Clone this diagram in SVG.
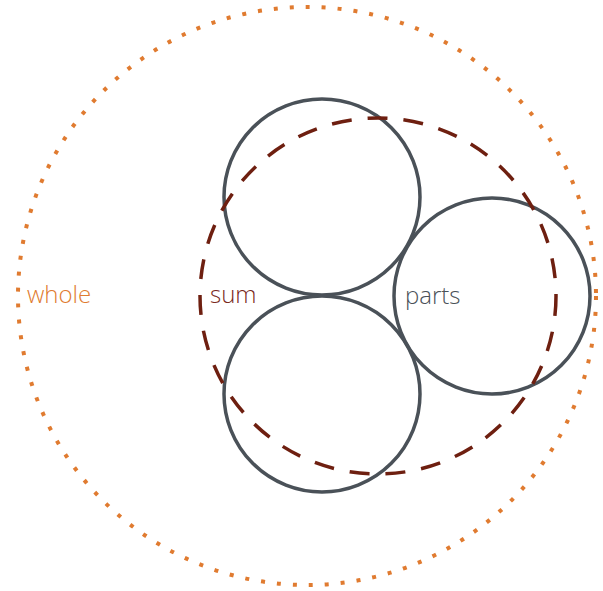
<svg xmlns="http://www.w3.org/2000/svg" width="603" height="591" viewBox="0 0 603 591">
<style>
.part{fill:none;stroke:#4a5158;stroke-width:3.5}
.lbl{font-family:"Open Sans","Liberation Sans",sans-serif;font-size:24px;font-weight:300}
</style>
<rect width="603" height="591" fill="#ffffff"/>
<g id="whole">
<circle cx="307" cy="296" r="289" fill="none" stroke="#e07b30" stroke-width="4" stroke-dasharray="4 12"/>
<text class="lbl" x="27" y="303" fill="#e07b30">whole</text>
</g>
<g id="part-top"><circle class="part" cx="322" cy="197" r="98"/></g>
<g id="part-bottom"><circle class="part" cx="322" cy="394" r="98"/></g>
<g id="part-right"><circle class="part" cx="492" cy="296" r="98"/>
<text class="lbl" x="405" y="304" fill="#4a5158">parts</text></g>
<g id="sum">
<circle cx="378" cy="296" r="178" fill="none" stroke="#6e1f10" stroke-width="3.5" stroke-dasharray="20 16"/>
<text class="lbl" x="210" y="303" fill="#7a2a1c">sum</text>
</g>
</svg>
